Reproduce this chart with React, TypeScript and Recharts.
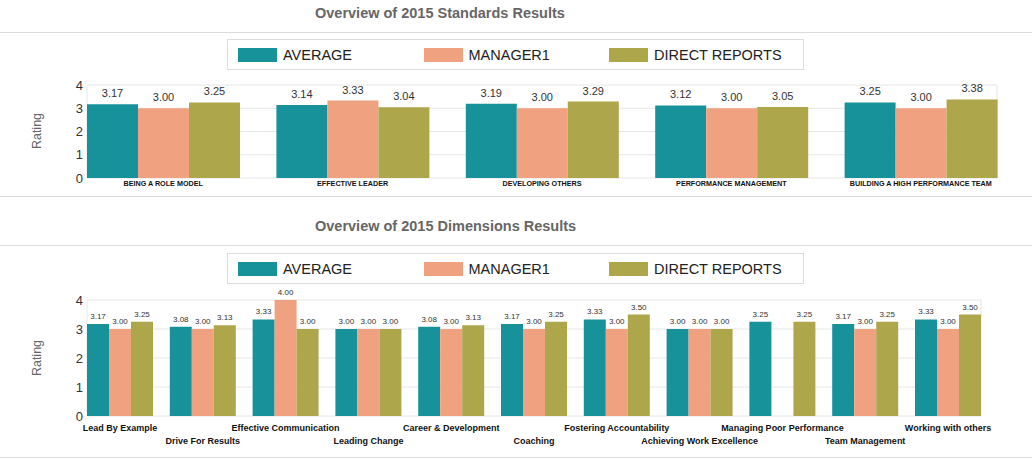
import React from 'react';
import { BarChart, Bar, XAxis, YAxis, CartesianGrid, LabelList } from 'recharts';

const seriesNames = ['AVERAGE', 'MANAGER1', 'DIRECT REPORTS'];
const seriesKeys = ['average', 'manager', 'direct'];
const seriesColors = ['#17929b', '#f0a17f', '#aea64b'];
const yTicks = [0, 1, 2, 3, 4];

const standards = [
  'BEING A ROLE MODEL',
  'EFFECTIVE LEADER',
  'DEVELOPING OTHERS',
  'PERFORMANCE MANAGEMENT',
  'BUILDING A HIGH PERFORMANCE TEAM',
];
const standardsAverage = [3.17, 3.14, 3.19, 3.12, 3.25];
const standardsManager = [3.0, 3.33, 3.0, 3.0, 3.0];
const standardsDirect = [3.25, 3.04, 3.29, 3.05, 3.38];

const dimensions = [
  'Lead By Example',
  'Drive For Results',
  'Effective Communication',
  'Leading Change',
  'Career & Development',
  'Coaching',
  'Fostering Accountability',
  'Achieving Work Excellence',
  'Managing Poor Performance',
  'Team Management',
  'Working with others',
];
const dimensionsAverage = [3.17, 3.08, 3.33, 3.0, 3.08, 3.17, 3.33, 3.0, 3.25, 3.17, 3.33];
const dimensionsManager = [3.0, 3.0, 4.0, 3.0, 3.0, 3.0, 3.0, 3.0, null, 3.0, 3.0];
const dimensionsDirect = [3.25, 3.13, 3.0, 3.0, 3.13, 3.25, 3.5, 3.0, 3.25, 3.25, 3.5];

const toRows = (names: string[], a: (number | null)[], m: (number | null)[], d: (number | null)[]) =>
  names.map((name, i) => ({ name, average: a[i], manager: m[i], direct: d[i] }));

const standardsData = toRows(standards, standardsAverage, standardsManager, standardsDirect);
const dimensionsData = toRows(dimensions, dimensionsAverage, dimensionsManager, dimensionsDirect);

const FONT = '"Liberation Sans", Arial, sans-serif';
const fmt = (v: any) => (v == null ? '' : Number(v).toFixed(2));

const Legend = ({ top }: { top: number }) => (
  <div
    style={{
      position: 'absolute', left: 227, top, width: 577, height: 31,
      border: '1px solid #dddddd', boxSizing: 'border-box', background: '#fff',
    }}
  >
    {seriesNames.map((n, i) => (
      <React.Fragment key={n}>
        <div style={{ position: 'absolute', left: 10 + i * 185.5, top: 8, width: 39, height: 14, background: seriesColors[i] }} />
        <div style={{ position: 'absolute', left: 55 + i * 185.5, top: 6, fontSize: 14.5, lineHeight: '18px', color: '#222' }}>{n}</div>
      </React.Fragment>
    ))}
  </div>
);

const Line = ({ top }: { top: number }) => (
  <div style={{ position: 'absolute', left: 0, top, width: 1032, height: 1, background: '#dcdcdc' }} />
);

const Title = ({ top, text }: { top: number; text: string }) => (
  <div style={{ position: 'absolute', left: 315, top, fontSize: 14.5, lineHeight: '17px', fontWeight: 'bold', color: '#666' }}>{text}</div>
);

const Rating = ({ cy }: { cy: number }) => (
  <div
    style={{
      position: 'absolute', left: 37 - 30, top: cy - 7, width: 60, height: 14, textAlign: 'center',
      fontSize: 12.5, lineHeight: '14px', color: '#666', transform: 'rotate(-90deg)',
    }}
  >
    Rating
  </div>
);

const StandardsTick = ({ x, y, payload }: any) => (
  <text x={x} y={y + 5} textAnchor="middle" dominantBaseline="central" fontSize={7.2} fontWeight="bold" fill="#111" fontFamily={FONT}>
    {payload.value}
  </text>
);

const DimensionsTick = ({ x, y, payload, index }: any) => (
  <text x={x} y={y + (index % 2 === 0 ? 12.3 : 25.3)} textAnchor="middle" dominantBaseline="central" fontSize={9} fontWeight="bold" fill="#111" fontFamily={FONT}>
    {payload.value}
  </text>
);

export default function App() {
  return (
    <div style={{ position: 'absolute', left: 0, top: 0, width: 1032, height: 460, background: '#fff', fontFamily: FONT, overflow: 'hidden' }}>
      {/* standards panel */}
      <Title top={5} text="Overview of 2015 Standards Results" />
      <Line top={32} />
      <Legend top={39} />
      <Rating cy={131} />
      <div style={{ position: 'absolute', left: 0, top: 70 }}>
        <BarChart
          width={1032}
          height={126}
          data={standardsData}
          margin={{ top: 15, right: 35, left: 37, bottom: 0 }}
          barCategoryGap={18.5}
          barGap={0}
        >
          <CartesianGrid stroke="#e6e6e6" horizontalValues={yTicks} verticalPoints={[87, 997]} />
          <XAxis
            dataKey="name"
            interval={0}
            height={18}
            axisLine={false}
            tickLine={false}
            tickSize={0}
            tickMargin={0}
            padding={{ left: -18.5, right: -18.5 }}
            tick={<StandardsTick />}
          />
          <YAxis
            width={50}
            domain={[0, 4]}
            ticks={yTicks}
            axisLine={false}
            tickLine={false}
            tickSize={0}
            tickMargin={4}
            tick={{ fontSize: 13, fill: '#333', fontFamily: FONT }}
          />
          {seriesKeys.map((k, i) => (
            <Bar key={k} dataKey={k} fill={seriesColors[i]} isAnimationActive={false}>
              <LabelList dataKey={k} position="top" offset={7} formatter={fmt} fontSize={11} fill="#333" fontFamily={FONT} />
            </Bar>
          ))}
        </BarChart>
      </div>
      <Line top={196} />

      {/* dimensions panel */}
      <Title top={218} text="Overview of 2015 Dimensions Results" />
      <Line top={245} />
      <Legend top={253} />
      <Rating cy={358} />
      <div style={{ position: 'absolute', left: 0, top: 283 }}>
        <BarChart
          width={1032}
          height={174}
          data={dimensionsData}
          margin={{ top: 17, right: 51, left: 37, bottom: 0 }}
          barCategoryGap={8.4}
          barGap={0}
        >
          <CartesianGrid stroke="#e6e6e6" horizontalValues={yTicks} verticalPoints={[87, 981]} />
          <XAxis
            dataKey="name"
            interval={0}
            height={41}
            axisLine={false}
            tickLine={false}
            tickSize={0}
            tickMargin={0}
            padding={{ left: -8.4, right: -8.4 }}
            tick={<DimensionsTick />}
          />
          <YAxis
            width={50}
            domain={[0, 4]}
            ticks={yTicks}
            axisLine={false}
            tickLine={false}
            tickSize={0}
            tickMargin={4}
            tick={{ fontSize: 13, fill: '#333', fontFamily: FONT }}
          />
          {seriesKeys.map((k, i) => (
            <Bar key={k} dataKey={k} fill={seriesColors[i]} isAnimationActive={false}>
              <LabelList dataKey={k} position="top" offset={5} formatter={fmt} fontSize={8} fill="#333" fontFamily={FONT} />
            </Bar>
          ))}
        </BarChart>
      </div>
      <Line top={457} />
    </div>
  );
}
